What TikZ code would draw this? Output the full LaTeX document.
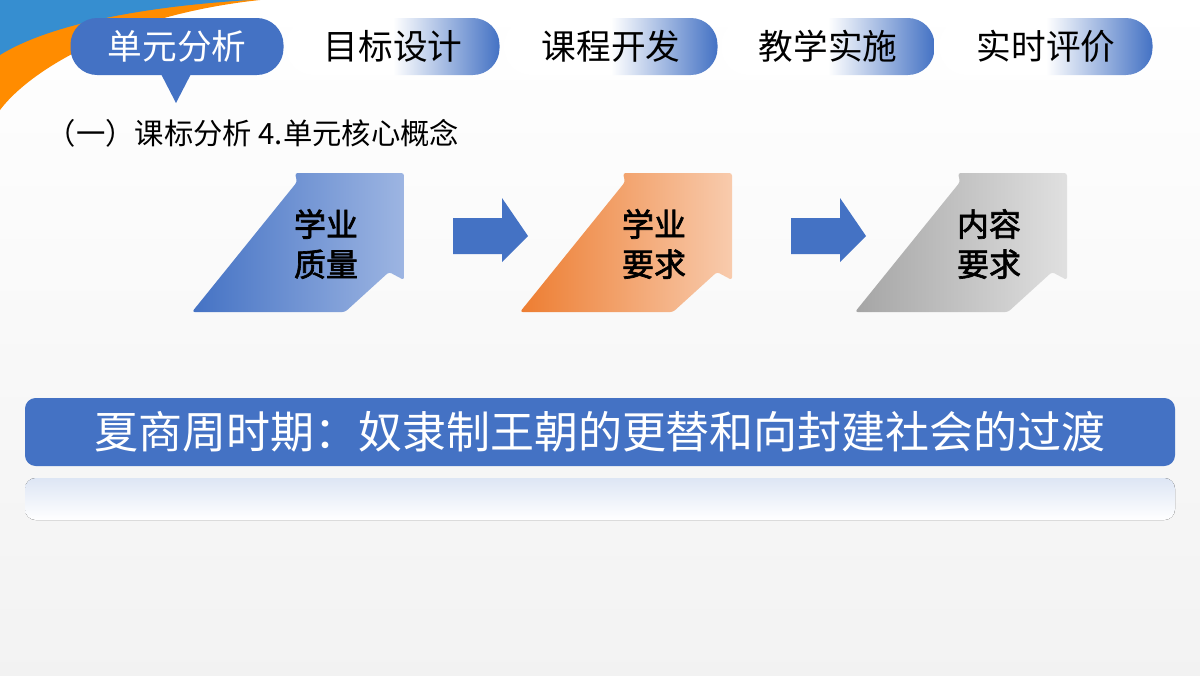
\documentclass[tikz,border=0pt]{standalone}
\usepackage{fontspec}
\setmainfont{Noto Sans CJK SC}
\newfontfamily\cjkb[FakeBold=2]{Noto Sans CJK SC}
\definecolor{mblue}{HTML}{4472C4}
\definecolor{lblue}{HTML}{9DB5E2}
\definecolor{morange}{HTML}{ED7D31}
\definecolor{lorange}{HTML}{F8CBAD}
\definecolor{mgray}{HTML}{A5A5A5}
\definecolor{lgray}{HTML}{E0E0E0}
\tikzset{
 tab/.style={rounded corners=20, minimum width=213*0.75pt, minimum height=57*0.75pt, inner sep=0pt, font=\fontsize{26}{28}\selectfont},
 gtab/.style={tab, left color=white, right color=mblue, middle color=white},
 lbl/.style={font=\cjkb\fontsize{24}{30}\selectfont, align=center},
}
\begin{document}
\begin{tikzpicture}[x=0.75pt,y=-0.75pt]
\useasboundingbox (0,0) rectangle (1200,675);
\fill[top color=white,bottom color=gray!10] (0,0) rectangle (1200,675);
% corner decoration
\fill[orange!90!yellow] (0,0) -- (260,0) .. controls (120,15) and (30,70) .. (0,110) -- cycle;
\fill[mblue!80!cyan] (0,0) -- (250,0) .. controls (120,8) and (40,30) .. (0,55) -- cycle;
% tabs
\node[tab, fill=mblue, text=white] (t1) at (177,46.5) {单元分析};
\fill[mblue] (160,72) -- (192,72) -- (176,103) -- cycle;
\node[gtab] (t2) at (393,46.5) {目标设计};
\node[gtab] (t3) at (611,46.5) {课程开发};
\node[gtab] (t4) at (828,46.5) {教学实施};
\node[gtab] (t5) at (1046,46.5) {实时评价};
\node[anchor=west, font=\fontsize{22}{24}\selectfont] (sub) at (42,133) {（一）课标分析 4.单元核心概念};
% arrow blocks
\foreach \dx/\ca/\cb/\nm in {0/mblue/lblue/a, 328/morange/lorange/b, 663/mgray/lgray/c}{
 \begin{scope}[xshift=\dx*0.75pt]
 \shade[shading=axis, shading angle=45, left color=\ca, right color=\cb, rounded corners=2]
  (192,312) -- (297,182) -- (295,173) -- (404,173) -- (404,280) -- (389,272) -- (345,312) -- cycle;
 \coordinate (\nm) at (326,244);
 \end{scope}}
\node[lbl] (la) at (a) {学业\\质量};
\node[lbl] (lb) at (b) {学业\\要求};
\node[lbl] (lc) at (c) {内容\\要求};
\foreach \dx/\nm in {0/s1, 338/s2}{
 \begin{scope}[xshift=\dx*0.75pt]
 \fill[mblue] (453,218) -- (502,218) -- (502,198) -- (528,236) -- (502,262) -- (502,254) -- (453,254) -- cycle;
 \coordinate (\nm) at (490,236);
 \end{scope}}
% banner
\fill[top color=mblue!18, bottom color=white, rounded corners=8] (25,478) rectangle (1175,520);
\node[fill=mblue, rounded corners=8, minimum width=1150*0.75pt, minimum height=68*0.75pt, text=white, font=\fontsize{33}{36}\selectfont] (ban) at (600,432) {夏商周时期：奴隶制王朝的更替和向封建社会的过渡};
\end{tikzpicture}
\end{document}
